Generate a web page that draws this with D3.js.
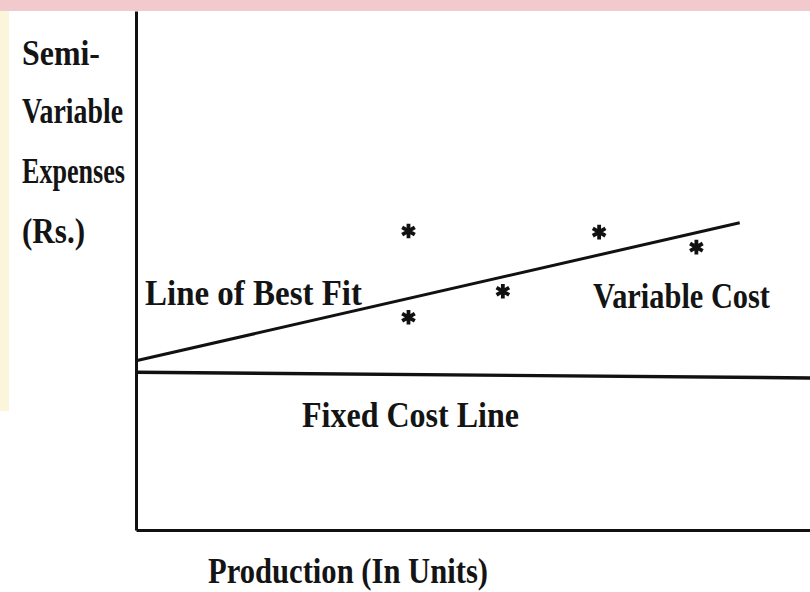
<!DOCTYPE html>
<html>
<head>
<meta charset="utf-8">
<script src="https://cdn.jsdelivr.net/npm/d3@7"></script>
<style>
  body { margin: 0; background: #fff; }
  svg { display: block; }
  text { font-family: "Liberation Serif", "Times New Roman", serif; font-weight: bold; fill: #141414; }
</style>
</head>
<body>
<svg></svg>
<script>
const width = 810;
const height = 592;

// observed points (production units, expenses)
const pointX = [2.83, 2.83, 3.81, 4.81, 5.82];
const pointY = [5.76, 4.10, 4.60, 5.74, 5.45];

// line of best fit and fixed cost line ends
const fitX = [0, 6.27];
const fitY = [3.26, 5.92];
const fixedX = [0, 7];
const fixedY = [3.04, 2.93];

const yLabelLines = ['Semi-', 'Variable', 'Expenses', '(Rs.)'];

const svg = d3.select('svg')
    .attr('width', width)
    .attr('height', height);

// scan background: pink band at top, pale strip at left
svg.append('rect').attr('x', 0).attr('y', 0).attr('width', width).attr('height', 11).attr('fill', '#f2c9cd');
svg.append('rect').attr('x', 0).attr('y', 11).attr('width', 9).attr('height', 400).attr('fill', '#fbf5dc');

const x = d3.scaleLinear().domain([0, 7]).range([136, 810]);
const y = d3.scaleLinear().domain([0, 10]).range([530, 11]);

const g = svg.append('g');

// axes, no ticks
g.append('g')
    .attr('transform', 'translate(0,' + y(0) + ')')
    .call(d3.axisBottom(x).ticks(0).tickSizeOuter(0))
    .select('.domain').attr('stroke', '#111').attr('stroke-width', 3);

g.append('g')
    .attr('transform', 'translate(' + x(0) + ',0)')
    .call(d3.axisLeft(y).ticks(0).tickSizeOuter(0))
    .select('.domain').attr('stroke', '#111').attr('stroke-width', 3);

const line = d3.line().x(d => x(d[0])).y(d => y(d[1]));

g.append('path')
    .datum(d3.zip(fixedX, fixedY))
    .attr('d', line)
    .attr('fill', 'none')
    .attr('stroke', '#111')
    .attr('stroke-width', 3.4);

g.append('path')
    .datum(d3.zip(fitX, fitY))
    .attr('d', line)
    .attr('fill', 'none')
    .attr('stroke', '#111')
    .attr('stroke-width', 3);

const star = d3.symbol().type(d3.symbolAsterisk).size(150);
g.selectAll('.pt')
    .data(d3.zip(pointX, pointY))
    .enter()
    .append('path')
    .attr('class', 'pt')
    .attr('d', star)
    .attr('transform', d => 'translate(' + x(d[0]) + ',' + y(d[1]) + ')')
    .attr('fill', 'none')
    .attr('stroke', '#111')
    .attr('stroke-width', 3.8);

// labels
const labels = [
    {t: yLabelLines[0], x: 22, y: 65, w: 78},
    {t: yLabelLines[1], x: 22, y: 123, w: 101},
    {t: yLabelLines[2], x: 22, y: 183, w: 103},
    {t: yLabelLines[3], x: 22, y: 243, w: 63},
    {t: 'Line of Best Fit', x: 145, y: 305, w: 217},
    {t: 'Variable Cost', x: 593, y: 308, w: 177},
    {t: 'Fixed Cost Line', x: 302, y: 427, w: 217},
    {t: 'Production (In Units)', x: 208, y: 583, w: 280}
];

svg.selectAll('.lbl')
    .data(labels)
    .enter()
    .append('text')
    .attr('class', 'lbl')
    .attr('x', d => d.x)
    .attr('y', d => d.y)
    .attr('font-size', 35)
    .attr('textLength', d => d.w)
    .attr('lengthAdjust', 'spacingAndGlyphs')
    .text(d => d.t);
</script>
</body>
</html>
